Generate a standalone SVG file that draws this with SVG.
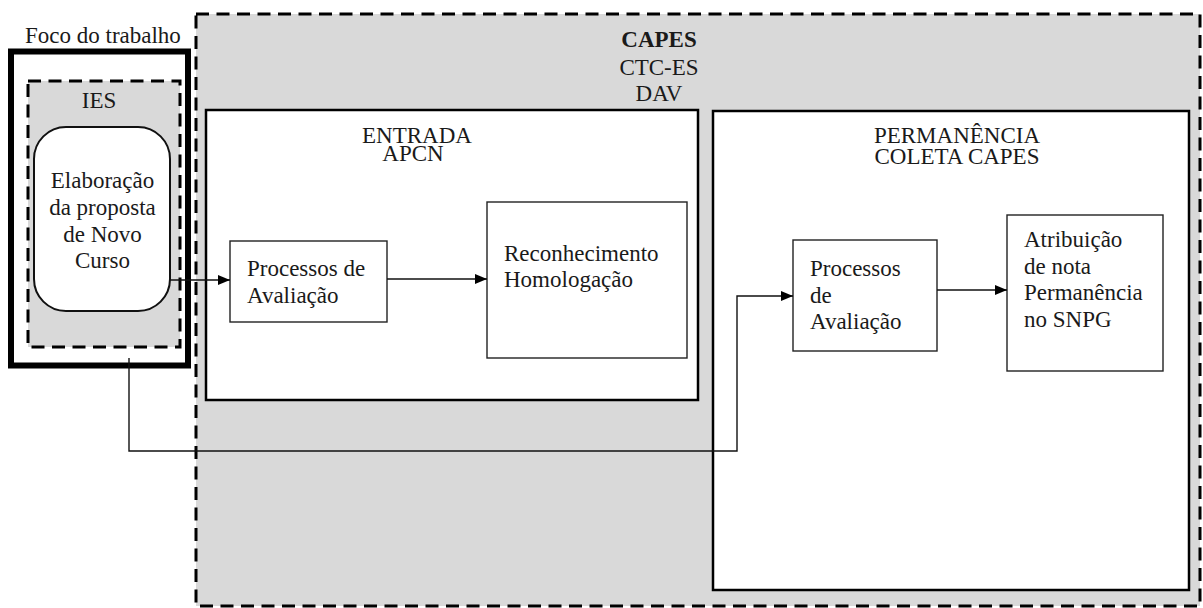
<svg xmlns="http://www.w3.org/2000/svg" width="1203" height="608" viewBox="0 0 1203 608" font-family="Liberation Serif, Tinos, Times New Roman, DejaVu Serif, serif">
<style>
text{font-family:Liberation Serif,Tinos,Times New Roman,DejaVu Serif,serif;font-size:23px;fill:#1a1a1a}
.c{text-anchor:middle}
.b{font-weight:bold}
.dash{fill:#d9d9d9;stroke:#000;stroke-width:3;stroke-dasharray:13 7.5}
.big{fill:#fff;stroke:#000;stroke-width:2.5}
.box{fill:#fff;stroke:#222;stroke-width:1.4}
.con{fill:none;stroke:#111;stroke-width:1.4}
</style>
<defs>
<marker id="arr" viewBox="0 0 12 10" refX="12" refY="5" markerWidth="12" markerHeight="10" markerUnits="userSpaceOnUse" orient="auto">
<path d="M0,0 L12,5 L0,10 Z" fill="#000"/>
</marker>
</defs>
<rect width="1203" height="608" fill="#fff"/>
<g id="capes">
<rect class="dash" x="196" y="14" width="1004" height="592"/>
<text class="c b" x="659" y="47">CAPES</text>
<text class="c" x="659" y="75">CTC-ES</text>
<text class="c" x="659" y="101">DAV</text>
</g>
<g id="foco">
<text x="25" y="43">Foco do trabalho</text>
<rect x="11" y="51.5" width="177" height="314" fill="#fff" stroke="#000" stroke-width="6"/>
</g>
<g id="ies">
<rect class="dash" x="28" y="81" width="152" height="266" stroke-width="2.6"/>
<text class="c" x="99" y="108">IES</text>
</g>
<g id="elaboracao">
<rect x="34" y="127" width="136" height="184" rx="32" fill="#fff" stroke="#111" stroke-width="2"/>
<text class="c" x="102.5" y="188">Elaboração</text>
<text class="c" x="102.5" y="215">da proposta</text>
<text class="c" x="102.5" y="242">de Novo</text>
<text class="c" x="102.5" y="268">Curso</text>
</g>
<g id="entrada">
<rect class="big" x="206" y="110" width="492" height="290"/>
<text class="c" x="417" y="143">ENTRADA</text>
<text class="c" x="413" y="161">APCN</text>
</g>
<g id="permanencia">
<rect class="big" x="713" y="111" width="476" height="479"/>
<text class="c" x="957" y="143">PERMANÊNCIA</text>
<text class="c" x="957" y="164">COLETA CAPES</text>
</g>
<g id="processos1">
<rect class="box" x="230" y="241" width="157" height="81"/>
<text x="247" y="276">Processos de</text>
<text x="247" y="303">Avaliação</text>
</g>
<g id="reconhecimento">
<rect class="box" x="487" y="202" width="200" height="156"/>
<text x="504" y="261">Reconhecimento</text>
<text x="504" y="287">Homologação</text>
</g>
<g id="processos2">
<rect class="box" x="793" y="240" width="144" height="111"/>
<text x="810" y="276">Processos</text>
<text x="810" y="303">de</text>
<text x="810" y="329">Avaliação</text>
</g>
<g id="atribuicao">
<rect class="box" x="1007" y="215" width="156" height="156"/>
<text x="1024" y="247">Atribuição</text>
<text x="1024" y="274">de nota</text>
<text x="1024" y="300">Permanência</text>
<text x="1024" y="327">no SNPG</text>
</g>
<g id="connectors">
<line class="con" x1="170" y1="280" x2="230" y2="280" marker-end="url(#arr)"/>
<line class="con" x1="387" y1="279" x2="487" y2="279" marker-end="url(#arr)"/>
<polyline class="con" points="129,358 129,451 737,451 737,296 793,296" marker-end="url(#arr)"/>
<line class="con" x1="937" y1="290" x2="1007" y2="290" marker-end="url(#arr)"/>
</g>
</svg>
